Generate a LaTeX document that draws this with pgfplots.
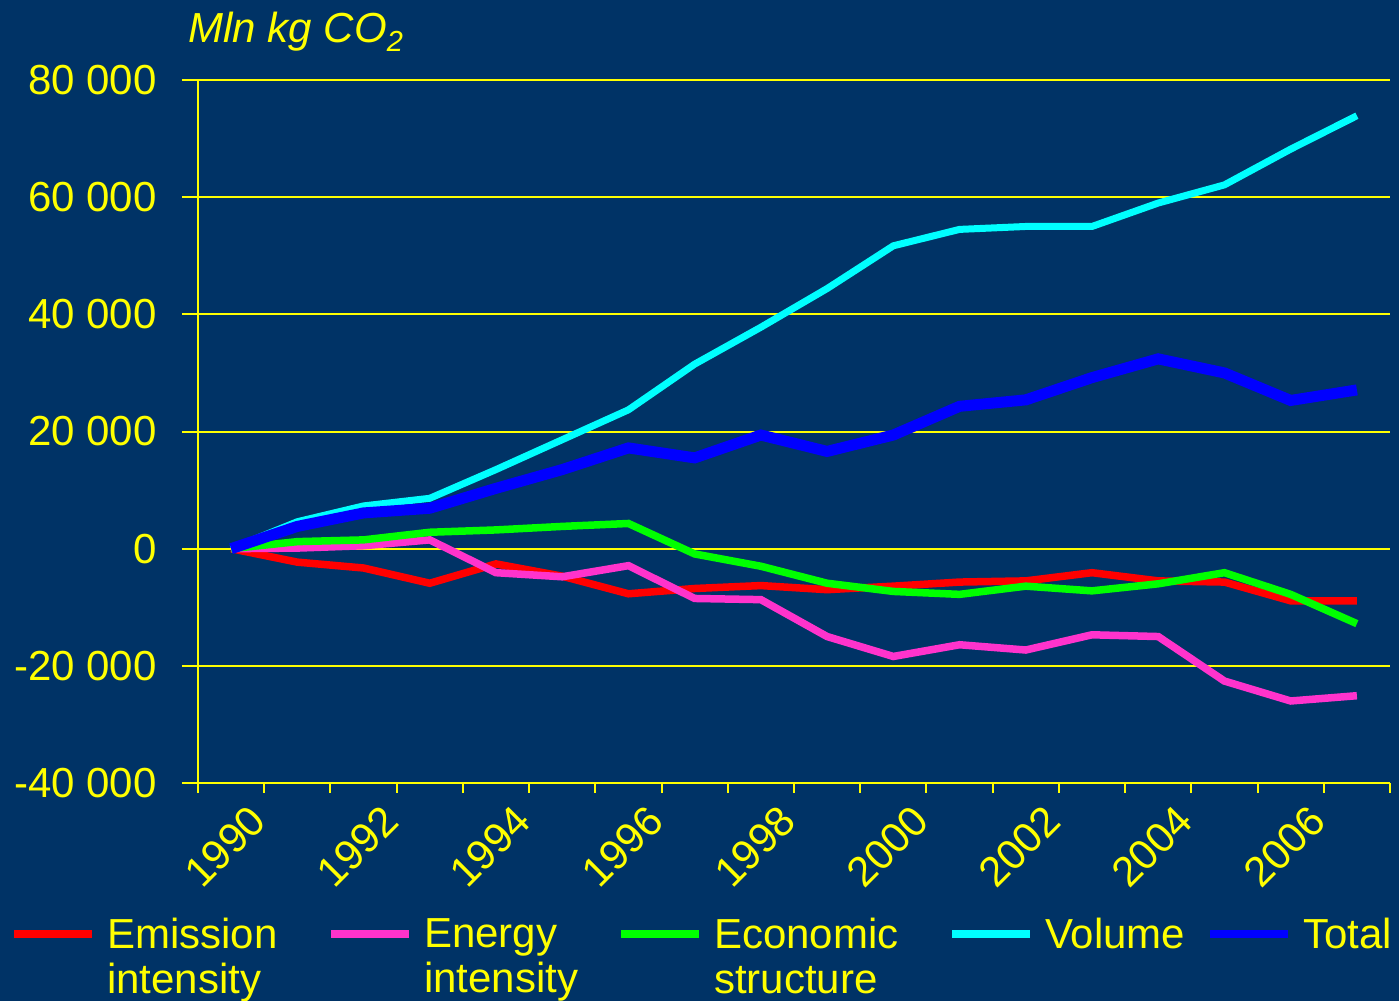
\documentclass[border=0pt]{standalone}
\usepackage{pgfplots}
\pgfplotsset{compat=1.18}
\usepackage{fontspec}
\setmainfont{Liberation Sans}
\definecolor{bg}{HTML}{003366}
\definecolor{ylw}{HTML}{FFFF00}
\definecolor{cred}{HTML}{FF0000}
\definecolor{cpink}{HTML}{FF33CC}
\definecolor{cgreen}{HTML}{00FF00}
\definecolor{ccyan}{HTML}{00FFFF}
\definecolor{cblue}{HTML}{0000FF}
\newcommand{\leg}[3]{\makebox[#1][l]{\hspace*{5.5pt}\rlap{\raisebox{-22.5pt}[0pt][0pt]{#3}}#2}}
\begin{document}
\begin{tikzpicture}
\fill[bg] (-99pt,-109pt) rectangle (600.5pt,391.5pt);
\begin{axis}[
 at={(0pt,0pt)}, anchor=south west,
 scale only axis, width=596pt, height=351.5pt,
 xmin=-0.5, xmax=17.5, ymin=-40000, ymax=80000,
 axis x line=bottom, axis y line=left,
 axis line style={-, draw=ylw, line width=1pt},
 tick align=outside,
 xtick={0,2,...,16},
 xticklabels={1990,1992,1994,1996,1998,2000,2002,2004,2006},
 minor xtick={-0.5,0.5,...,17.5},
 major x tick style={draw=none},
 minor x tick style={draw=ylw, line width=1pt},
 minor tick length=5pt,
 major tick length=8pt,
 ytick={-40000,-20000,0,20000,40000,60000,80000},
 yticklabels={-40 000,-20 000,0,20 000,40 000,60 000,80 000},
 scaled y ticks=false,
 y tick style={draw=ylw, line width=1pt},
 ymajorgrids, major grid style={draw=ylw, line width=1pt},
 ticklabel style={text=ylw, font=\fontsize{21}{25}\selectfont},
 yticklabel style={anchor=east, inner sep=0pt, xshift=-12.5pt},
 xticklabel style={anchor=center, inner sep=0pt, xshift=-3pt, yshift=-23.7pt, rotate=45},
 legend columns=5,
 legend style={at={(-0.1577,-0.1925)}, anchor=north west, draw=none, fill=none,
   inner sep=0pt, outer sep=0pt, font=\fontsize{21}{25}\selectfont, text=ylw,
   cells={anchor=west}, nodes={inner sep=0pt, outer sep=0pt, text depth=0pt},
   /tikz/every even column/.style={column sep=0pt},
   /tikz/every odd column/.style={column sep=0pt}},
 legend image code/.code={\draw[#1, line width=4pt] (0pt,0pt) -- (39pt,0pt);},
 every axis plot/.append style={line join=miter},
]
\addplot[cred, line width=3.75pt] coordinates {
(0,0) (1,-2300) (2,-3300) (3,-5900) (4,-2600) (5,-4700) (6,-7700) (7,-6800) (8,-6300)
(9,-7000) (10,-6400) (11,-5700) (12,-5500) (13,-4100) (14,-5500) (15,-5700) (16,-8900) (17,-8900)};
\addlegendentry{\leg{115.5pt}{Emission}{intensity}}
\addplot[cpink, line width=3.75pt] coordinates {
(0,0) (1,100) (2,500) (3,1500) (4,-4100) (5,-4800) (6,-2900) (7,-8500) (8,-8700)
(9,-15000) (10,-18400) (11,-16400) (12,-17300) (13,-14700) (14,-15000) (15,-22600) (16,-26000) (17,-25100)};
\addlegendentry{\leg{102pt}{Energy}{intensity}}
\addplot[cgreen, line width=3.75pt] coordinates {
(0,0) (1,1200) (2,1500) (3,2800) (4,3200) (5,3800) (6,4300) (7,-900) (8,-3000)
(9,-5900) (10,-7300) (11,-7800) (12,-6400) (13,-7200) (14,-6000) (15,-4100) (16,-7800) (17,-12800)};
\addlegendentry{\leg{122.5pt}{Economic}{structure}}
\addplot[ccyan, line width=3.5pt] coordinates {
(0,0) (1,4600) (2,7300) (3,8600) (4,13500) (5,18600) (6,23700) (7,31500) (8,37800)
(9,44400) (10,51700) (11,54500) (12,55000) (13,55000) (14,59000) (15,62100) (16,68200) (17,73900)};
\addlegendentry{\leg{86pt}{Volume}{}}
\addplot[cblue, line width=5.5pt] coordinates {
(0,0) (1,3800) (2,6100) (3,6900) (4,10300) (5,13500) (6,17200) (7,15500) (8,19400)
(9,16600) (10,19400) (11,24300) (12,25400) (13,29200) (14,32400) (15,30000) (16,25300) (17,27100)};
\addlegendentry{\leg{50pt}{Total}{}}
\end{axis}
\node[anchor=base west, inner sep=0pt, text=ylw, font=\itshape\fontsize{21}{25}\selectfont] at (-5pt,370pt) {Mln kg CO\raisebox{-4.5pt}{\fontsize{14.5}{15}\selectfont 2}};
\pgfresetboundingbox
\useasboundingbox (-99pt,-109pt) rectangle (600.5pt,391.5pt);
\end{tikzpicture}
\end{document}
